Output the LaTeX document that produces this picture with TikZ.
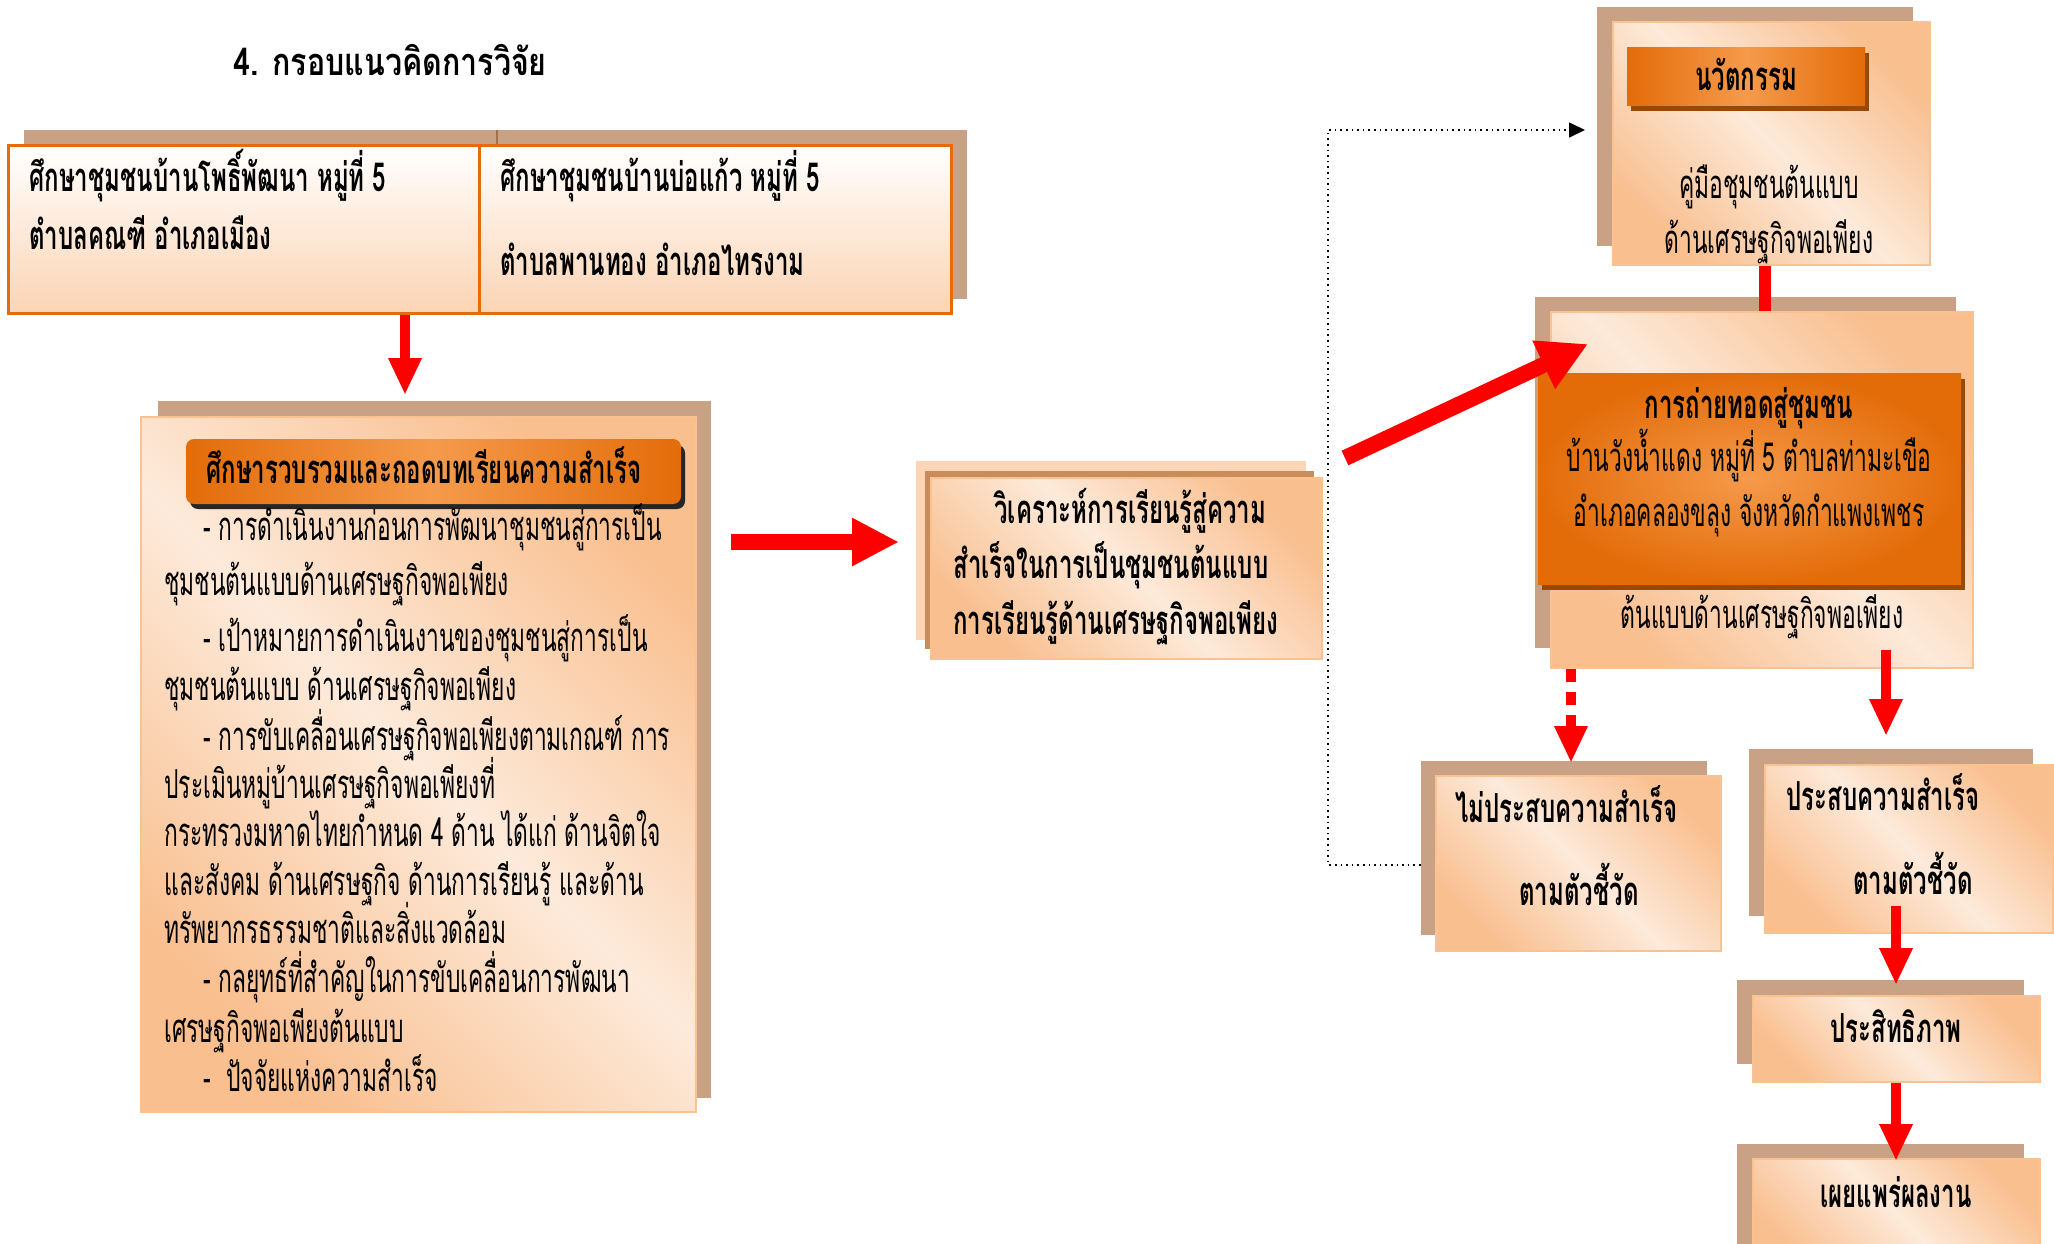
\documentclass[tikz,border=0pt]{standalone}
\usepackage{fontspec}
\newfontfamily\thf[Script=Thai,FakeStretch=0.57]{Loma}
\newfontfamily\thb[Script=Thai,FakeStretch=0.60]{Loma}
\newfontfamily\tht[Script=Thai,FakeStretch=0.80]{Loma}
\usetikzlibrary{arrows.meta,fit}
\definecolor{shadowbrown}{HTML}{C9A184}
\definecolor{boxborder}{HTML}{FAC191}
\definecolor{peach}{HTML}{F9BF8F}
\definecolor{lightp}{HTML}{FDEADA}
\definecolor{orangeA}{HTML}{E36C09}
\definecolor{orangeL}{HTML}{F59A4B}
\definecolor{darkshadow}{HTML}{984807}
\definecolor{topborder}{HTML}{E46C0A}
\definecolor{toppeach}{HTML}{FBD4B4}
\definecolor{midback}{HTML}{FBD5B5}
\definecolor{midbrown}{HTML}{C98D5C}
\definecolor{redA}{HTML}{FF0000}
\begin{document}
\begin{tikzpicture}[x=0.5pt,y=-0.5pt,
  shadowb/.style={fill=shadowbrown,inner sep=0pt,draw=none},
  frontb/.style={draw=boxborder,line width=1.2pt,inner sep=0pt,
     top color=peach,bottom color=peach,middle color=lightp,shading angle=-45},
  topb/.style={draw=topborder,line width=1.5pt,inner sep=0pt,top color=white,bottom color=toppeach},
  hdrb/.style={inner sep=0pt,left color=orangeA,right color=orangeA,middle color=orangeL},
  hdrs/.style={inner sep=0pt,fill=darkshadow},
  txt/.style={font=\thf\fontsize{20pt}{22pt}\selectfont,inner sep=0pt,text=black},
  btxt/.style={font=\thb\bfseries\fontsize{20pt}{22pt}\selectfont,inner sep=0pt,text=black},
  ttxt/.style={font=\tht\bfseries\fontsize{19pt}{22pt}\selectfont,inner sep=0pt,text=black},
  redarrow/.style={draw=redA,line width=5pt,-{Triangle[length=18.5pt,width=15.5pt]}},
]
\useasboundingbox (0,0) rectangle (2054,1243);

% title
\node[ttxt,anchor=base west] (title) at (233,75) {4. กรอบแนวคิดการวิจัย};

% top boxes
\node[shadowb,fit={(24,130) (967,299)}] (topS) {};
\draw[draw=midbrown!80!black,line width=0.6pt] (497,130) -- (497,145);
\node[topb,fit={(8,145) (479,313)}] (topL) {};
\node[topb,fit={(479,145) (951,313)}] (topR) {};
\node[btxt,anchor=base west] (tl1) at (29,191) {ศึกษาชุมชนบ้านโพธิ์พัฒนา หมู่ที่ 5};
\node[btxt,anchor=base west] (tl2) at (29,249) {ตำบลคณฑี อำเภอเมือง};
\node[btxt,anchor=base west] (tr1) at (500,191) {ศึกษาชุมชนบ้านบ่อแก้ว หมู่ที่ 5};
\node[btxt,anchor=base west] (tr2) at (500,275) {ตำบลพานทอง อำเภอไทรงาม};

% left big box
\node[shadowb,fit={(158,401) (711,1098)}] (leftS) {};
\node[frontb,fit={(141,417) (696,1112)}] (leftF) {};
\node[inner sep=0pt,fill=black!85,rounded corners=4pt,fit={(190,445) (685,509)}] (hdrS) {};
\node[hdrb,rounded corners=4pt,fit={(186,439) (681,504)}] (hdr) {};
\node[btxt,anchor=base west] (hdrT) at (206,483) {ศึกษารวบรวมและถอดบทเรียนความสำเร็จ};
\node[txt,anchor=base west] (b1) at (203,540) {- การดำเนินงานก่อนการพัฒนาชุมชนสู่การเป็น};
\node[txt,anchor=base west] (b2) at (164,595) {ชุมชนต้นแบบด้านเศรษฐกิจพอเพียง};
\node[txt,anchor=base west] (b3) at (203,651) {- เป้าหมายการดำเนินงานของชุมชนสู่การเป็น};
\node[txt,anchor=base west] (b4) at (164,700) {ชุมชนต้นแบบ ด้านเศรษฐกิจพอเพียง};
\node[txt,anchor=base west] (b5) at (203,750) {- การขับเคลื่อนเศรษฐกิจพอเพียงตามเกณฑ์ การ};
\node[txt,anchor=base west] (b6) at (164,798) {ประเมินหมู่บ้านเศรษฐกิจพอเพียงที่};
\node[txt,anchor=base west] (b7) at (164,846) {กระทรวงมหาดไทยกำหนด 4 ด้าน ได้แก่ ด้านจิตใจ};
\node[txt,anchor=base west] (b8) at (164,895) {และสังคม ด้านเศรษฐกิจ ด้านการเรียนรู้ และด้าน};
\node[txt,anchor=base west] (b9) at (164,943) {ทรัพยากรธรรมชาติและสิ่งแวดล้อม};
\node[txt,anchor=base west] (b10) at (203,992) {- กลยุทธ์ที่สำคัญในการขับเคลื่อนการพัฒนา};
\node[txt,anchor=base west] (b11) at (164,1042) {เศรษฐกิจพอเพียงต้นแบบ};
\node[txt,anchor=base west] (b12) at (203,1091) {-\ \ ปัจจัยแห่งความสำเร็จ};

% middle box
\node[inner sep=0pt,fill=midback,fit={(916,461) (1306,640)}] (midB) {};
\node[inner sep=0pt,fill=midbrown,fit={(925,471) (1314,649)}] (midS) {};
\node[frontb,fit={(931,478) (1322,659)}] (midF) {};
\node[btxt,anchor=base west] (m1) at (994,523) {วิเคราะห์การเรียนรู้สู่ความ};
\node[btxt,anchor=base west] (m2) at (953,578) {สำเร็จในการเป็นชุมชนต้นแบบ};
\node[btxt,anchor=base west] (m3) at (953,634) {การเรียนรู้ด้านเศรษฐกิจพอเพียง};

% innovation box
\node[shadowb,fit={(1597,7) (1913,246)}] (innS) {};
\node[frontb,fit={(1613,22) (1930,265)}] (innF) {};
\node[hdrs,fit={(1631,53) (1869,111)}] (innHS) {};
\node[hdrb,fit={(1627,47) (1865,105)}] (innH) {};
\node[btxt,anchor=base] (innT) at (1746,90) {นวัตกรรม};
\node[txt,anchor=base] (inn1) at (1769,198) {คู่มือชุมชนต้นแบบ};
\node[txt,anchor=base] (inn2) at (1769,253) {ด้านเศรษฐกิจพอเพียง};

% transfer box
\node[shadowb,fit={(1535,297) (1956,648)}] (trS) {};
\node[frontb,fit={(1551,312) (1973,668)}] (trF) {};
\node[hdrs,fit={(1542,379) (1965,590)}] (trHS) {};
\node[inner sep=0pt,inner color=orangeL,outer color=orangeA,fit={(1538,373) (1961,584)}] (trH) {};
\node[btxt,anchor=base] (tr0) at (1749,418) {การถ่ายทอดสู่ชุมชน};
\node[txt,anchor=base] (trl1) at (1749,471) {บ้านวังน้ำแดง หมู่ที่ 5 ตำบลท่ามะเขือ};
\node[txt,anchor=base] (trl2) at (1749,526) {อำเภอคลองขลุง จังหวัดกำแพงเพชร};
\node[txt,anchor=base] (trl3) at (1762,628) {ต้นแบบด้านเศรษฐกิจพอเพียง};

% fail box
\node[shadowb,fit={(1421,761) (1707,935)}] (failS) {};
\node[frontb,fit={(1436,776) (1721,951)}] (failF) {};
\node[btxt,anchor=base west] (f1) at (1455,822) {ไม่ประสบความสำเร็จ};
\node[btxt,anchor=base] (f2) at (1579,905) {ตามตัวชี้วัด};

% success box
\node[shadowb,fit={(1749,749) (2033,916)}] (sucS) {};
\node[frontb,fit={(1765,765) (2053,933)}] (sucF) {};
\node[btxt,anchor=base west] (s1) at (1786,810) {ประสบความสำเร็จ};
\node[btxt,anchor=base] (s2) at (1913,894) {ตามตัวชี้วัด};

% efficiency box
\node[shadowb,fit={(1737,980) (2024,1064)}] (effS) {};
\node[frontb,fit={(1753,996) (2040,1082)}] (effF) {};
\node[btxt,anchor=base] (e1) at (1896,1042) {ประสิทธิภาพ};

% publish box
\node[shadowb,fit={(1737,1144) (2024,1260)}] (pubS) {};
\node[frontb,fit={(1753,1159) (2040,1270)}] (pubF) {};
\node[btxt,anchor=base] (p1) at (1896,1207) {เผยแพร่ผลงาน};

% connectors
\coordinate (a2s) at (731,542);
\coordinate (a2e) at (899,542);
\coordinate (diagS) at (1345,458);
\coordinate (diagE) at (1588,344);
\coordinate (dotA) at (1328,865);
\coordinate (dotB) at (1328,130);
\coordinate (dotE) at (1585,130);

\draw[redarrow] (405,0 |- topL.south) -- (405,395);
\draw[draw=redA,line width=8pt,-{Triangle[length=23.5pt,width=22.5pt]}] (a2s) -- (a2e);
\draw[draw=redA,line width=8pt,-{Triangle[length=24.5pt,width=25pt]}] (diagS) -- (diagE);
\draw[draw=redA,line width=6pt] (innF.south -| 1765,0) -- (1765,0 |- trF.north);
\draw[redarrow,dash pattern=on 6.5pt off 5pt] (1571,0 |- trF.south) -- (1571,763);
\draw[redarrow] (1886,650) -- (1886,736);
\draw[redarrow] (1896,906) -- (1896,985);
\draw[redarrow] (1896,0 |- effF.south) -- (1896,1161);
\draw[black,line width=0.8pt,dotted,-{Triangle[length=8pt,width=7.5pt]}] (failS.west |- dotA) -- (dotA) -- (dotB) -- (dotE);
\end{tikzpicture}
\end{document}
